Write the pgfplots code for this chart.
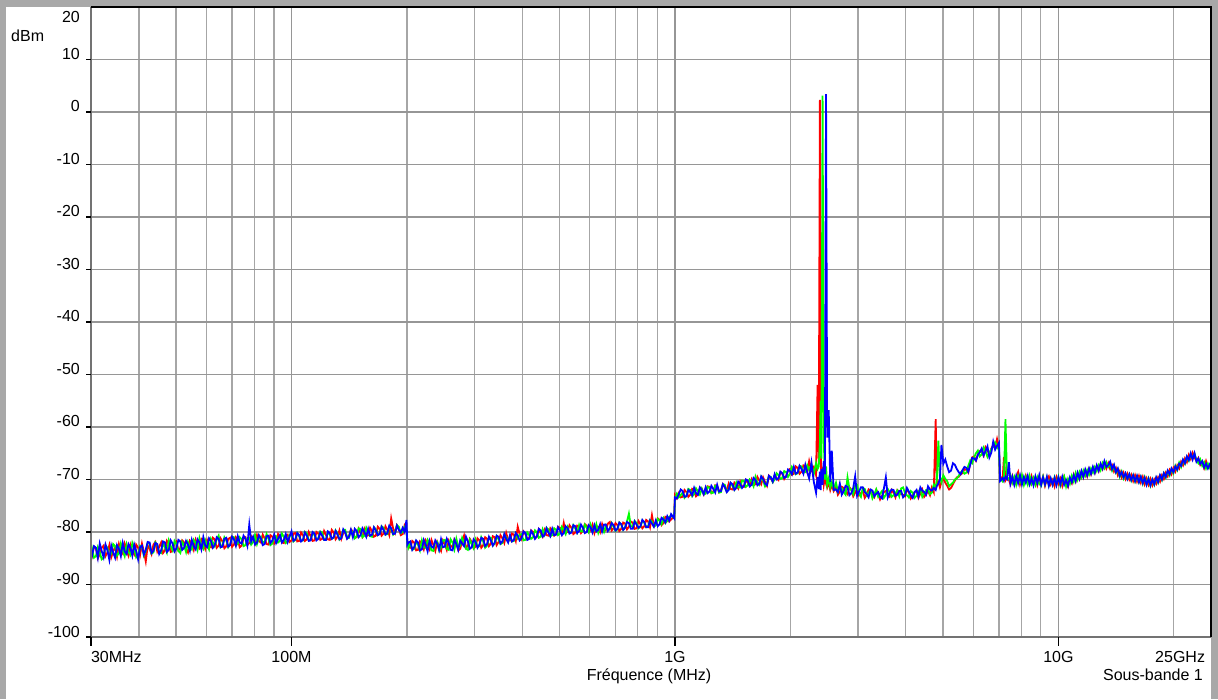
\documentclass[border=0pt]{standalone}
\usepackage{fontspec}
\setmainfont{Liberation Sans}
\usepackage{pgfplots}
\usepackage{pgfplotstable}
\pgfplotsset{compat=1.18}
\definecolor{framegray}{RGB}{168,168,168}
\definecolor{gridgray}{RGB}{150,150,150}
\definecolor{axisgray}{RGB}{115,115,115}
\definecolor{tracered}{RGB}{255,0,0}
\definecolor{tracegreen}{RGB}{0,255,0}
\definecolor{traceblue}{RGB}{0,0,255}

% lf = log10(frequency in MHz); r, g, b = level in dBm of the three traces
\pgfplotstableread{
lf r g b
1.4771 -82.9 -84.6 -83.5
1.48 -84.5 -83.2 -84.4
1.485 -82.8 -84.9 -82.7
1.49 -83.1 -84.6 -83.0
1.495 -85.0 -82.9 -84.9
1.50 -84.2 -83.9 -82.2
1.505 -83.0 -85.2 -83.6
1.51 -82.6 -84.9 -84.8
1.515 -84.6 -82.6 -82.4
1.52 -83.9 -83.0 -83.5
1.525 -82.5 -84.7 -85.3
1.53 -84.8 -84.1 -82.6
1.535 -83.6 -82.3 -83.9
1.54 -83.0 -82.7 -84.9
1.545 -84.7 -84.5 -82.5
1.55 -82.3 -84.0 -83.2
1.555 -83.5 -82.2 -84.6
1.56 -84.1 -83.5 -82.1
1.565 -82.2 -84.6 -83.7
1.57 -83.4 -82.4 -84.2
1.575 -84.5 -83.8 -82.3
1.58 -82.5 -84.4 -83.0
1.585 -83.8 -82.1 -84.5
1.59 -84.3 -83.1 -82.4
1.595 -82.4 -84.8 -83.6
1.60 -83.0 -84.3 -85.2
1.605 -84.4 -82.6 -82.9
1.61 -82.2 -82.8 -82.6
1.615 -83.7 -84.5 -84.3
1.62 -85.6 -83.6 -83.4
1.625 -82.6 -82.0 -81.9
1.63 -83.2 -82.2 -82.0
1.635 -84.2 -84.1 -84.0
1.64 -82.4 -83.9 -83.6
1.645 -81.9 -82.0 -82.1
1.65 -83.7 -82.5 -82.3
1.655 -82.8 -83.8 -84.2
1.66 -82.0 -84.0 -83.5
1.665 -84.0 -82.1 -81.8
1.67 -83.5 -82.9 -82.0
1.675 -81.7 -83.9 -83.8
1.68 -82.3 -81.6 -83.4
1.685 -83.8 -82.7 -81.6
1.69 -83.6 -83.5 -82.2
1.695 -82.1 -81.7 -83.7
1.70 -81.8 -82.3 -83.1
1.705 -83.5 -83.6 -81.5
1.71 -83.1 -84.0 -81.8
1.715 -81.6 -81.9 -83.4
1.72 -82.0 -82.6 -83.0
1.725 -83.3 -83.8 -81.7
1.73 -83.9 -81.9 -82.4
1.735 -81.7 -82.8 -83.6
1.74 -82.2 -83.3 -81.5
1.745 -83.4 -81.5 -82.7
1.75 -81.5 -82.1 -83.3
1.755 -82.6 -83.4 -81.4
1.76 -83.1 -81.2 -82.0
1.765 -81.4 -82.6 -83.3
1.77 -82.0 -83.2 -81.0
1.775 -83.2 -81.5 -82.6
1.78 -81.6 -82.4 -82.9
1.785 -82.7 -83.3 -81.2
1.79 -82.9 -81.3 -81.7
1.795 -81.1 -82.0 -83.0
1.80 -81.4 -82.7 -82.5
1.805 -83.0 -81.4 -81.0
1.81 -82.6 -80.7 -81.3
1.815 -81.2 -82.9 -82.9
1.82 -81.8 -82.5 -82.8
1.825 -83.1 -81.0 -81.3
1.83 -82.7 -81.6 -81.1
1.835 -81.3 -82.9 -82.8
1.84 -81.1 -82.3 -82.5
1.845 -82.8 -80.9 -80.9
1.85 -82.4 -81.0 -81.4
1.855 -81.0 -82.6 -82.6
1.86 -81.5 -82.2 -80.8
1.865 -82.9 -81.0 -82.0
1.87 -82.6 -81.4 -82.2
1.875 -81.2 -82.7 -80.7
1.88 -81.0 -82.5 -81.3
1.885 -82.5 -81.2 -82.6
1.89 -82.1 -81.1 -78.6
1.895 -80.8 -82.4 -81.8
1.90 -81.3 -81.9 -80.9
1.905 -82.2 -80.6 -82.4
1.91 -80.6 -82.3 -82.0
1.915 -81.7 -81.2 -80.6
1.92 -82.0 -80.9 -81.2
1.925 -80.5 -82.1 -82.5
1.93 -81.2 -81.8 -82.3
1.935 -82.3 -80.4 -80.8
1.94 -82.4 -81.3 -80.7
1.945 -80.6 -82.5 -82.1
1.95 -80.9 -82.2 -81.6
1.955 -82.2 -80.7 -80.5
1.96 -81.8 -80.8 -82.1
1.965 -80.4 -82.0 -81.3
1.97 -81.0 -81.7 -80.6
1.975 -82.0 -80.3 -82.0
1.98 -82.1 -80.9 -81.5
1.985 -80.7 -82.1 -80.4
1.99 -80.5 -81.8 -81.9
1.995 -81.9 -80.5 -80.9
2.00 -81.6 -80.6 -79.9
2.005 -80.3 -81.8 -81.7
2.01 -80.2 -81.5 -81.4
2.015 -81.8 -80.2 -80.2
2.02 -81.7 -80.8 -80.6
2.025 -80.1 -81.7 -81.8
2.03 -80.6 -81.6 -81.5
2.035 -81.7 -80.0 -80.1
2.04 -81.4 -80.3 -80.7
2.045 -80.0 -81.6 -81.7
2.05 -80.8 -81.5 -81.6
2.055 -81.7 -80.2 -80.0
2.06 -81.6 -80.6 -80.3
2.065 -80.0 -81.4 -81.6
2.07 -80.3 -81.2 -81.3
2.075 -81.5 -79.9 -80.1
2.08 -81.3 -80.1 -80.7
2.085 -79.8 -81.5 -81.5
2.09 -80.6 -81.4 -81.5
2.095 -81.4 -80.0 -79.9
2.10 -81.5 -80.5 -80.2
2.105 -79.6 -81.3 -81.3
2.11 -80.1 -81.1 -81.0
2.115 -81.4 -79.7 -79.8
2.12 -80.9 -80.3 -80.5
2.125 -79.7 -81.4 -81.4
2.13 -81.3 -80.9 -81.2
2.135 -80.2 -79.6 -79.5
2.14 -80.0 -79.6 -80.1
2.145 -81.2 -81.0 -81.3
2.15 -80.8 -81.1 -80.9
2.155 -79.5 -79.7 -79.6
2.16 -79.9 -80.2 -81.0
2.165 -81.1 -81.2 -79.4
2.17 -81.0 -80.8 -79.8
2.175 -79.4 -79.3 -81.0
2.18 -80.2 -79.4 -80.6
2.185 -80.9 -81.0 -79.3
2.19 -79.5 -80.7 -80.0
2.195 -80.8 -79.2 -80.9
2.20 -80.6 -80.0 -79.4
2.205 -79.2 -80.8 -80.7
2.21 -79.8 -80.9 -80.5
2.215 -80.9 -79.1 -79.1
2.22 -80.7 -79.5 -79.7
2.225 -79.0 -80.6 -80.6
2.23 -79.4 -80.3 -80.4
2.235 -80.7 -78.9 -79.0
2.24 -80.3 -79.2 -79.6
2.245 -78.9 -80.5 -80.5
2.25 -79.6 -80.4 -80.2
2.255 -80.6 -79.0 -78.8
2.26 -77.4 -79.5 -79.3
2.265 -79.3 -80.5 -80.4
2.27 -80.2 -80.1 -80.3
2.275 -78.7 -78.7 -78.8
2.28 -79.3 -79.0 -79.6
2.285 -80.6 -80.2 -80.1
2.29 -80.4 -80.0 -79.2
2.295 -78.8 -79.0 -80.0
2.30 -79.6 -79.3 -77.7
2.302 -81.8 -82.0 -82.4
2.305 -82.9 -83.0 -82.0
2.31 -83.0 -82.1 -81.8
2.315 -81.7 -83.4 -83.4
2.32 -82.0 -83.2 -82.9
2.325 -83.5 -81.8 -81.6
2.33 -83.4 -82.4 -82.0
2.335 -81.8 -83.5 -83.5
2.34 -82.2 -81.6 -83.3
2.345 -83.3 -82.9 -81.5
2.35 -81.6 -83.0 -82.4
2.355 -82.4 -81.5 -83.7
2.36 -83.3 -82.2 -81.7
2.365 -81.5 -83.5 -82.8
2.37 -82.5 -83.6 -83.0
2.375 -83.6 -81.9 -81.6
2.38 -81.9 -81.8 -82.2
2.385 -82.8 -83.5 -83.4
2.39 -83.6 -82.9 -81.4
2.395 -81.6 -81.6 -82.9
2.40 -82.3 -81.5 -82.8
2.405 -83.4 -83.2 -81.3
2.41 -81.7 -83.4 -82.1
2.415 -82.6 -81.4 -83.4
2.42 -82.9 -82.0 -83.5
2.425 -81.4 -83.3 -81.5
2.43 -82.0 -81.3 -82.3
2.435 -83.5 -82.8 -83.4
2.44 -83.2 -82.6 -81.6
2.445 -81.8 -81.1 -82.2
2.45 -80.7 -82.0 -82.7
2.455 -83.0 -83.2 -80.9
2.46 -82.6 -83.4 -81.8
2.465 -81.3 -81.5 -83.2
2.47 -81.9 -82.3 -82.9
2.475 -83.1 -83.1 -81.4
2.48 -82.8 -81.5 -81.9
2.485 -81.2 -82.8 -83.0
2.49 -81.6 -82.7 -82.4
2.495 -83.0 -81.0 -81.1
2.50 -82.5 -81.8 -81.3
2.505 -81.0 -83.0 -82.7
2.51 -81.3 -82.6 -82.3
2.515 -82.7 -81.0 -80.9
2.52 -82.2 -81.1 -81.6
2.525 -80.8 -82.6 -82.6
2.53 -81.0 -82.2 -82.0
2.535 -82.5 -80.8 -80.7
2.54 -81.9 -81.4 -80.9
2.545 -80.6 -82.3 -82.2
2.55 -81.2 -82.1 -81.8
2.555 -82.1 -80.5 -80.4
2.56 -80.2 -81.0 -81.3
2.565 -81.5 -81.9 -82.0
2.57 -81.6 -80.8 -80.6
2.575 -80.3 -81.8 -81.8
2.58 -80.5 -81.7 -81.5
2.585 -81.7 -80.3 -80.2
2.59 -79.0 -81.2 -80.7
2.595 -80.4 -80.5 -81.6
2.60 -81.3 -80.4 -81.2
2.605 -79.9 -81.6 -79.9
2.61 -80.4 -81.5 -80.2
2.615 -81.4 -80.1 -81.5
2.62 -81.1 -80.6 -81.3
2.625 -79.7 -81.3 -79.8
2.63 -80.0 -81.0 -80.4
2.635 -81.2 -79.7 -81.3
2.64 -80.9 -80.1 -80.8
2.645 -79.5 -81.1 -79.4
2.65 -80.2 -80.9 -79.7
2.655 -80.9 -79.5 -80.9
2.66 -79.6 -80.5 -80.6
2.665 -80.6 -79.2 -79.3
2.67 -80.7 -79.5 -80.1
2.675 -79.3 -80.8 -80.8
2.68 -79.8 -80.6 -79.4
2.685 -80.7 -79.3 -80.6
2.69 -80.4 -79.6 -80.5
2.695 -79.0 -80.6 -79.1
2.70 -79.2 -80.3 -79.7
2.705 -80.3 -79.0 -80.6
2.71 -78.3 -79.6 -80.2
2.715 -80.2 -80.4 -78.9
2.72 -79.9 -79.1 -79.3
2.725 -78.7 -80.2 -80.3
2.73 -79.2 -80.0 -80.1
2.735 -80.4 -78.7 -78.7
2.74 -80.1 -79.3 -78.9
2.745 -78.8 -80.1 -80.2
2.75 -79.0 -78.7 -79.8
2.755 -80.2 -79.9 -78.6
2.76 -79.7 -79.9 -79.2
2.765 -78.5 -78.6 -80.2
2.77 -78.8 -79.2 -80.0
2.775 -80.0 -80.0 -78.7
2.78 -79.6 -78.6 -79.1
2.785 -78.6 -79.9 -80.1
2.79 -80.2 -79.7 -78.7
2.795 -78.9 -78.5 -79.9
2.80 -79.0 -80.1 -79.6
2.805 -80.0 -78.8 -78.5
2.81 -78.5 -79.2 -79.9
2.815 -79.8 -80.0 -78.6
2.82 -79.6 -78.8 -78.6
2.825 -78.4 -79.7 -79.8
2.83 -78.1 -79.5 -79.3
2.835 -79.7 -78.3 -78.3
2.84 -79.3 -79.0 -78.7
2.845 -78.3 -79.8 -79.7
2.85 -78.7 -79.5 -79.4
2.855 -79.8 -78.2 -78.2
2.86 -79.4 -78.6 -78.5
2.865 -78.2 -79.6 -79.6
2.87 -78.4 -79.1 -79.2
2.875 -79.5 -78.0 -78.1
2.88 -79.0 -76.5 -78.3
2.885 -78.0 -78.9 -79.4
2.89 -78.2 -79.0 -79.4
2.895 -79.4 -77.9 -78.0
2.90 -79.3 -78.3 -78.6
2.905 -77.9 -79.3 -79.2
2.91 -78.5 -79.0 -78.9
2.915 -79.3 -77.8 -77.7
2.92 -78.9 -78.2 -78.1
2.925 -77.7 -79.1 -79.1
2.93 -78.0 -78.9 -79.1
2.935 -79.1 -77.7 -77.8
2.94 -76.8 -78.0 -78.4
2.945 -78.9 -79.0 -79.0
2.95 -78.6 -78.7 -77.8
2.955 -77.4 -77.5 -78.9
2.96 -77.7 -77.9 -78.5
2.965 -78.7 -78.5 -77.3
2.97 -78.3 -77.4 -77.6
2.975 -77.1 -78.3 -78.2
2.98 -77.2 -77.9 -77.0
2.985 -78.0 -77.1 -77.8
2.99 -77.6 -76.9 -76.6
2.998 -77.0 -77.3 -77.4
3.00 -73.0 -73.6 -73.4
3.005 -73.6 -72.7 -73.6
3.01 -72.6 -73.4 -72.8
3.015 -73.4 -73.0 -71.9
3.02 -73.3 -72.5 -72.2
3.025 -72.0 -73.5 -73.3
3.03 -72.4 -73.1 -73.2
3.035 -73.3 -71.8 -72.0
3.04 -72.9 -72.0 -72.4
3.045 -71.8 -73.2 -73.0
3.05 -72.1 -72.8 -71.6
3.055 -73.2 -71.7 -72.6
3.06 -72.8 -72.3 -72.9
3.065 -71.6 -72.9 -71.5
3.07 -71.7 -71.8 -72.0
3.075 -72.9 -72.8 -72.8
3.08 -72.5 -72.7 -71.5
3.085 -71.3 -71.4 -72.6
3.09 -71.4 -71.6 -72.3
3.095 -72.6 -72.6 -71.2
3.10 -72.3 -72.5 -71.8
3.105 -71.1 -71.2 -72.5
3.11 -71.2 -71.3 -71.0
3.115 -72.4 -72.5 -72.3
3.12 -72.0 -72.4 -72.2
3.125 -70.9 -70.9 -70.9
3.13 -71.5 -71.0 -71.4
3.135 -72.2 -72.3 -72.4
3.14 -70.8 -71.9 -72.0
3.145 -71.8 -70.7 -70.6
3.15 -71.9 -71.2 -70.9
3.155 -70.6 -71.9 -72.0
3.16 -71.0 -70.6 -71.6
3.165 -71.7 -71.5 -70.4
3.17 -70.4 -71.5 -70.8
3.175 -71.3 -70.2 -71.6
3.18 -71.4 -70.3 -71.2
3.185 -70.1 -71.4 -70.0
3.19 -70.6 -71.1 -70.2
3.195 -71.2 -70.0 -71.3
3.20 -70.0 -70.4 -71.0
3.205 -71.1 -71.3 -69.7
3.21 -70.9 -69.5 -70.1
3.215 -69.5 -70.6 -71.1
3.22 -70.2 -71.0 -70.8
3.225 -70.9 -69.5 -69.4
3.23 -69.6 -70.2 -69.9
3.235 -70.5 -71.3 -70.8
3.24 -71.2 -70.7 -71.1
3.245 -69.3 -69.4 -69.3
3.25 -69.8 -69.5 -69.6
3.255 -70.4 -70.5 -70.4
3.26 -69.2 -70.0 -69.0
3.265 -69.7 -68.8 -70.0
3.27 -70.1 -69.2 -69.8
3.275 -68.6 -69.9 -68.5
3.28 -68.9 -69.7 -68.8
3.285 -69.9 -68.4 -69.7
3.29 -69.3 -68.6 -69.5
3.295 -68.3 -69.5 -68.1
3.30 -68.0 -68.9 -68.4
3.305 -69.1 -67.6 -69.0
3.31 -68.9 -68.2 -67.6
3.315 -67.5 -69.0 -68.9
3.32 -67.8 -68.8 -68.7
3.325 -68.9 -67.4 -67.4
3.33 -68.5 -67.5 -68.0
3.335 -67.3 -68.7 -68.9
3.34 -67.4 -68.6 -67.2
3.345 -68.6 -67.3 -68.6
3.350 -66.5 -68.2 -69.8
3.356 -68.3 -67.1 -66.8
3.362 -67.6 -69.0 -70.4
3.368 -69.2 -66.9 -72.5
3.372 -52.0 -68.0 -69.5
3.375 -66.0 -67.5 -71.8
3.378 2.3 -63.0 -68.5
3.380 -64.0 -55.0 -72.0
3.382 -70.5 -66.0 -68.0
3.385 -68.8 3.1 -71.0
3.388 -71.0 -62.0 -66.5
3.391 -69.5 -70.0 -69.0
3.394 -70.8 -67.5 3.4
3.397 -71.5 -71.0 -62.0
3.401 -70.5 -69.8 -56.8
3.405 -72.0 -71.5 -70.5
3.409 -71.0 -70.5 -64.5
3.414 -72.2 -71.8 -72.0
3.42 -71.4 -70.6 -71.9
3.425 -72.9 -72.3 -72.4
3.43 -72.3 -71.5 -70.8
3.435 -71.4 -71.7 -72.9
3.44 -71.6 -72.4 -72.2
3.445 -72.3 -72.9 -71.2
3.45 -72.8 -69.6 -71.4
3.455 -71.5 -71.7 -73.0
3.46 -71.9 -72.0 -72.6
3.465 -73.2 -72.8 -71.6
3.47 -72.5 -71.2 -69.4
3.475 -71.8 -71.1 -73.1
3.48 -73.0 -72.7 -72.3
3.485 -72.6 -73.3 -71.5
3.49 -72.1 -71.6 -71.5
3.495 -73.5 -71.8 -72.4
3.50 -72.9 -73.0 -72.8
3.505 -71.9 -72.5 -73.4
3.51 -72.3 -72.1 -71.9
3.515 -73.0 -73.6 -72.1
3.52 -73.4 -72.8 -73.2
3.525 -72.0 -71.9 -72.7
3.53 -72.6 -73.3 -72.4
3.535 -73.8 -72.7 -73.3
3.54 -73.1 -72.2 -73.6
3.545 -72.4 -73.5 -71.7
3.55 -72.2 -72.9 -69.6
3.555 -73.0 -71.8 -73.4
3.56 -73.3 -72.4 -72.5
3.565 -72.0 -73.3 -71.9
3.57 -72.5 -73.0 -72.0
3.575 -73.4 -72.6 -73.1
3.58 -72.0 -72.1 -72.9
3.585 -72.3 -73.2 -72.2
3.59 -72.8 -71.7 -72.2
3.595 -72.9 -71.5 -73.4
3.60 -73.2 -72.6 -73.0
3.605 -72.0 -73.0 -71.6
3.61 -72.4 -73.4 -72.3
3.615 -73.6 -72.2 -73.0
3.62 -73.0 -72.5 -73.5
3.625 -72.4 -73.5 -72.4
3.63 -72.1 -73.1 -72.0
3.635 -73.5 -72.3 -73.2
3.64 -72.7 -71.8 -71.5
3.645 -71.9 -73.3 -72.1
3.65 -73.3 -72.6 -72.4
3.655 -72.8 -72.0 -72.9
3.66 -72.2 -71.9 -71.3
3.665 -73.0 -72.8 -71.9
3.67 -71.5 -72.5 -72.1
3.675 -72.4 -71.0 -71.6
3.680 -58.5 -71.5 -72.0
3.683 -71.0 -70.0 -71.2
3.687 -70.5 -62.6 -70.8
3.691 -71.5 -69.5 -70.0
3.695 -70.4 -70.5 -63.4
3.70 -69.8 -69.2 -67.0
3.705 -70.6 -69.9 -66.2
3.71 -71.2 -70.3 -67.5
3.715 -71.9 -71.3 -68.6
3.72 -71.6 -70.9 -68.3
3.725 -70.9 -70.6 -66.9
3.73 -70.2 -70.0 -67.2
3.735 -69.6 -69.8 -68.0
3.74 -69.5 -69.3 -68.6
3.745 -69.0 -68.7 -69.0
3.75 -68.8 -68.3 -68.2
3.755 -68.0 -68.9 -67.6
3.76 -68.2 -68.7 -67.8
3.765 -68.7 -67.4 -68.5
3.77 -67.0 -66.4 -67.2
3.775 -65.8 -66.9 -65.9
3.78 -65.6 -65.8 -66.0
3.785 -66.4 -65.0 -66.4
3.79 -65.2 -64.5 -65.3
3.795 -64.6 -65.6 -64.8
3.80 -64.8 -65.2 -64.1
3.805 -65.5 -63.9 -65.4
3.81 -63.8 -64.6 -64.6
3.815 -64.3 -65.7 -63.7
3.82 -65.4 -65.0 -65.8
3.825 -64.1 -64.2 -64.9
3.83 -63.5 -63.8 -62.8
3.835 -63.9 -62.9 -64.3
3.84 -62.3 -63.5 -63.6
3.845 -64.0 -64.5 -63.0
3.848 -70.0 -69.8 -70.3
3.855 -69.4 -70.4 -69.7
3.858 -65.7 -69.8 -70.2
3.862 -70.2 -58.5 -69.5
3.866 -69.7 -69.6 -69.9
3.871 -70.1 -70.0 -66.7
3.875 -70.9 -69.2 -70.8
3.88 -69.4 -70.6 -69.5
3.885 -70.8 -69.5 -71.0
3.89 -69.6 -71.0 -69.3
3.895 -68.6 -69.4 -70.7
3.90 -70.9 -70.5 -69.2
3.905 -69.5 -69.2 -70.9
3.91 -70.7 -71.0 -69.5
3.915 -69.3 -69.6 -70.6
3.92 -70.5 -70.9 -69.3
3.925 -70.9 -69.3 -70.9
3.93 -69.4 -70.8 -69.8
3.935 -70.8 -69.7 -71.1
3.94 -69.7 -71.0 -69.4
3.945 -71.1 -69.6 -70.7
3.95 -69.8 -70.8 -69.2
3.955 -70.6 -71.2 -71.0
3.96 -69.5 -69.5 -69.6
3.965 -71.2 -70.9 -70.9
3.97 -70.0 -69.6 -69.5
3.975 -69.4 -71.1 -71.2
3.98 -70.9 -69.9 -69.8
3.985 -70.1 -71.0 -71.0
3.99 -71.3 -69.6 -69.7
3.995 -69.6 -70.9 -71.1
4.00 -70.8 -69.5 -69.6
4.005 -69.8 -71.2 -70.9
4.01 -71.2 -70.1 -69.5
4.015 -69.5 -69.4 -71.0
4.02 -70.6 -71.3 -70.1
4.025 -71.4 -69.9 -71.2
4.03 -69.9 -70.8 -69.6
4.035 -70.7 -69.3 -70.5
4.04 -69.1 -70.4 -69.2
4.045 -70.3 -68.8 -70.3
4.05 -68.9 -70.0 -68.7
4.055 -69.9 -68.6 -69.8
4.06 -68.5 -69.6 -68.4
4.065 -69.6 -68.3 -69.5
4.07 -68.3 -69.3 -68.1
4.075 -69.4 -68.2 -69.2
4.08 -68.0 -69.1 -67.9
4.085 -69.0 -67.9 -68.9
4.09 -67.8 -68.7 -67.6
4.095 -68.7 -67.6 -68.7
4.10 -67.5 -68.4 -67.3
4.105 -68.4 -67.3 -68.3
4.11 -67.1 -68.2 -67.0
4.115 -68.0 -66.9 -67.9
4.12 -66.8 -67.8 -66.5
4.125 -67.9 -66.7 -67.6
4.13 -66.9 -67.6 -67.3
4.135 -68.0 -67.0 -66.6
4.14 -67.3 -68.3 -68.0
4.145 -68.5 -67.4 -67.2
4.15 -67.8 -68.7 -68.6
4.155 -69.2 -68.1 -67.9
4.16 -68.4 -69.5 -69.3
4.165 -69.6 -68.5 -68.6
4.17 -68.7 -69.8 -69.6
4.175 -69.9 -68.9 -68.8
4.18 -68.9 -69.9 -69.9
4.185 -70.0 -69.0 -69.0
4.19 -69.1 -70.2 -70.1
4.195 -70.3 -69.2 -69.2
4.20 -69.2 -70.4 -70.3
4.205 -70.4 -69.4 -69.3
4.21 -69.3 -70.5 -70.5
4.215 -70.6 -69.5 -69.5
4.22 -69.5 -70.8 -70.7
4.225 -70.9 -69.6 -69.7
4.23 -69.8 -70.9 -71.0
4.235 -71.0 -69.8 -69.9
4.24 -69.9 -71.2 -71.1
4.245 -71.1 -70.0 -70.0
4.25 -70.0 -71.0 -70.9
4.255 -70.8 -69.7 -69.6
4.26 -69.6 -70.6 -70.5
4.265 -70.4 -69.3 -69.2
4.27 -69.2 -70.1 -70.0
4.275 -69.9 -68.8 -68.8
4.28 -68.7 -69.6 -69.5
4.285 -69.4 -68.4 -68.3
4.29 -68.2 -69.2 -69.0
4.295 -69.0 -68.0 -67.9
4.30 -67.8 -68.8 -68.6
4.305 -68.5 -67.4 -67.5
4.31 -67.3 -68.2 -68.1
4.315 -67.9 -66.8 -67.0
4.32 -66.6 -67.6 -67.4
4.325 -67.3 -66.3 -66.2
4.33 -66.0 -67.0 -66.9
4.335 -66.7 -65.7 -65.6
4.34 -65.3 -66.4 -66.3
4.345 -66.1 -65.2 -65.0
4.35 -64.9 -66.0 -66.2
4.355 -65.8 -65.1 -65.0
4.36 -66.5 -66.3 -66.6
4.365 -65.9 -66.9 -66.0
4.37 -67.2 -66.2 -67.0
4.375 -66.6 -67.4 -66.5
4.38 -67.8 -66.7 -67.7
4.385 -66.5 -67.9 -67.0
4.39 -67.6 -67.0 -67.9
4.395 -67.2 -67.8 -67.1
4.3979 -67.6 -67.3 -67.5
}\spectrum

\begin{document}
\begin{tikzpicture}
\fill[framegray] (-91pt,-62pt) rectangle (1127pt,637pt);
\fill[white] (-85pt,-62pt) rectangle (1120pt,630pt);
\begin{axis}[
  at={(0pt,0pt)}, anchor=south west,
  scale only axis, width=1120pt, height=630pt,
  xmode=log, log basis x=10,
  xmin=30, xmax=25000, ymin=-100, ymax=20,
  axis line style={draw=none},
  major tick length=0pt, minor tick length=0pt,
  xtick={30,100,1000,10000,25000},
  xticklabels={\rlap{30MHz},100M,1G,10G,\llap{25GHz\hspace{6pt}}},
  minor xtick={40,50,60,70,80,90,200,300,400,500,600,700,800,900,2000,3000,4000,5000,6000,7000,8000,9000,20000},
  ytick={-100,-90,-80,-70,-60,-50,-40,-30,-20,-10,0,10,20},
  yticklabels={-100,-90,-80,-70,-60,-50,-40,-30,-20,-10,0,10,\raisebox{-16pt}{20}},
  xmajorgrids, xminorgrids, ymajorgrids,
  major grid style={gridgray, line width=1.2pt},
  minor grid style={gridgray!85, line width=1.2pt},
  every tick label/.append style={font=\fontsize{16}{19}\selectfont, inner sep=0pt},
  xticklabel style={anchor=north, yshift=-14pt},
  yticklabel style={anchor=base east, xshift=-11pt},
  clip=true,
]
\addplot[tracered, line width=1.8pt] table[x expr={10^(\thisrow{lf})}, y=r] {\spectrum};
\addplot[tracegreen, line width=1.8pt] table[x expr={10^(\thisrow{lf})}, y=g] {\spectrum};
\addplot[traceblue, line width=1.8pt] table[x expr={10^(\thisrow{lf})}, y=b] {\spectrum};
\coordinate (t30) at (axis cs:30,-100);
\coordinate (t100) at (axis cs:100,-100);
\coordinate (t1000) at (axis cs:1000,-100);
\coordinate (t10000) at (axis cs:10000,-100);
\end{axis}
% axis frame
\draw[axisgray, line width=1.5pt] (0pt,0pt) -- (0pt,630pt);
\draw[axisgray, line width=1.5pt] (0pt,0pt) -- (1120pt,0pt);
\draw[black, line width=1.5pt] (0pt,630pt) -- (1120pt,630pt) -- (1120pt,0pt);
% tick marks
\foreach \t in {t30,t100,t1000,t10000} \draw[black, line width=1.2pt] (\t) -- ++(0pt,-9pt);
\foreach \k in {0,...,11} \draw[black, line width=1.2pt] (0pt,\k*52.5pt) -- ++(-5pt,0pt);
% labels
\node[anchor=base west, inner sep=0pt, font=\fontsize{16}{19}\selectfont] at (-80pt,595pt) {dBm};
\node[anchor=base, inner sep=0pt, font=\fontsize{16}{19}\selectfont] at (558pt,-43pt) {Fréquence (MHz)};
\node[anchor=base east, inner sep=0pt, font=\fontsize{16}{19}\selectfont] at (1112pt,-43pt) {Sous-bande 1};
\end{tikzpicture}
\end{document}
